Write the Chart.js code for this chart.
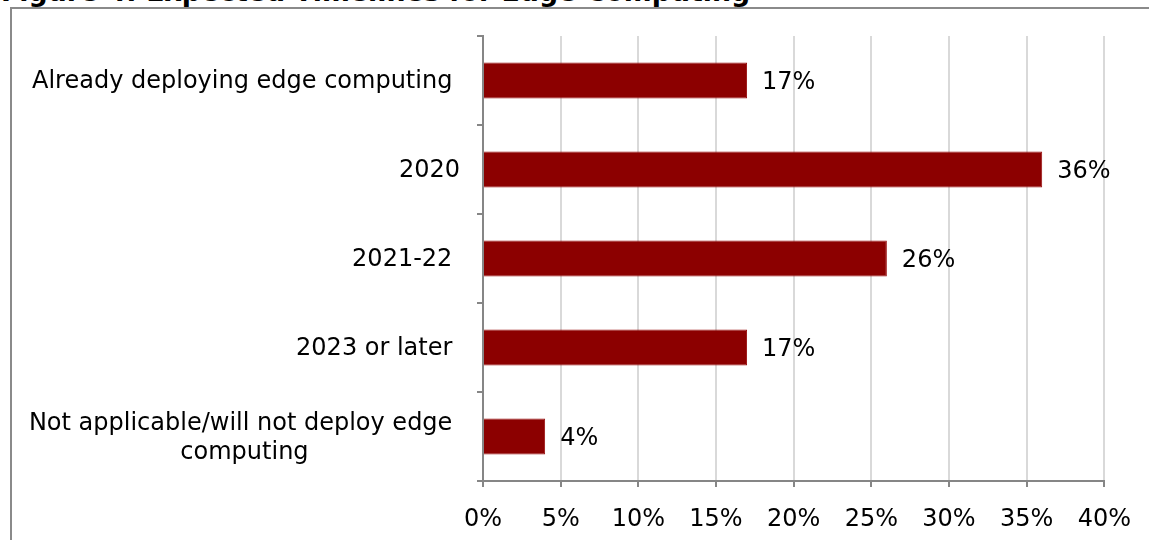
<!DOCTYPE html>
<html>
<head>
<meta charset="utf-8">
<script src="https://cdn.jsdelivr.net/npm/chart.js@4/dist/chart.umd.min.js"></script>
<style>
  html, body { margin: 0; padding: 0; background: #fff; overflow: hidden; }
  #wrap { position: relative; width: 1149px; height: 540px; }
  #title {
    position: absolute; left: 1px; top: -23px;
    font: bold 26.8px "DejaVu Sans", Verdana, sans-serif;
    color: #000; white-space: nowrap; line-height: 30px;
  }
  #frame {
    position: absolute; left: 10px; top: 7px; width: 1200px; height: 600px;
    border: 2px solid #8a8a8a; box-sizing: border-box;
  }
  #chart { position: absolute; left: 0; top: 0; }
</style>
</head>
<body>
<div id="wrap">
  <div id="title">Figure 4: Expected Timelines for Edge Computing</div>
  <div id="frame"></div>
  <canvas id="chart" width="1149" height="540"></canvas>
</div>
<script>
// ─── Data ───
const categories = [
  'Already deploying edge computing ',
  '2020',
  '2021-22 ',
  '2023 or later ',
  ['Not applicable/will not deploy edge ', 'computing']
];
const shares = [17, 36, 26, 17, 4];
const xTicks = [0, 5, 10, 15, 20, 25, 30, 35, 40];

const FONT = '"DejaVu Sans", Verdana, sans-serif';
const BAR_RED = '#8c0000';
const AXIS_GRAY = '#868686';
const GRID_GRAY = '#d9d9d9';

// ─── Category labels, right-anchored left of the axis ───
const categoryLabels = {
  id: 'categoryLabels',
  afterDraw(chart) {
    const { ctx } = chart;
    const y = chart.scales.y;
    const right = y.right - 23;
    const lineH = 29;
    ctx.save();
    ctx.font = `24px ${FONT}`;
    ctx.fillStyle = '#000';
    ctx.textBaseline = 'middle';
    categories.forEach((lab, i) => {
      const cy = y.getPixelForValue(i) + 1;
      const lines = Array.isArray(lab) ? lab : [lab];
      if (lines.length === 1) {
        ctx.textAlign = 'right';
        ctx.fillText(lines[0], right, cy);
      } else {
        const w = Math.max(...lines.map(l => ctx.measureText(l).width));
        const cx = right - w / 2;
        ctx.textAlign = 'center';
        const top = cy + 1 - (lines.length - 1) * lineH / 2;
        lines.forEach((l, k) => ctx.fillText(l, cx, top + k * lineH));
      }
    });
    ctx.restore();
  }
};

// ─── Value labels at the end of each bar ───
const valueLabels = {
  id: 'valueLabels',
  afterDatasetsDraw(chart) {
    const { ctx } = chart;
    const meta = chart.getDatasetMeta(0);
    ctx.save();
    ctx.font = `24px ${FONT}`;
    ctx.fillStyle = '#000';
    ctx.textAlign = 'left';
    ctx.textBaseline = 'middle';
    meta.data.forEach((bar, i) => {
      ctx.fillText(`${shares[i]}%`, bar.x + 15, bar.y + 2);
    });
    ctx.restore();
  }
};

new Chart(document.getElementById('chart'), {
  type: 'bar',
  data: {
    labels: categories,
    datasets: [{
      data: shares,
      backgroundColor: BAR_RED,
      borderColor: '#9a1010',
      borderWidth: 1,
      barPercentage: 0.405,
      categoryPercentage: 1
    }]
  },
  options: {
    indexAxis: 'y',
    responsive: false,
    animation: false,
    events: [],
    layout: { padding: { top: 36, right: 38, left: 0, bottom: 0 } },
    plugins: { legend: { display: false }, tooltip: { enabled: false } },
    scales: {
      x: {
        min: 0,
        max: 40,
        afterBuildTicks: (s) => { s.ticks = xTicks.map(v => ({ value: v })); },
        afterFit: (s) => { s.height = 540 - 481; },
        grid: {
          color: (c) => c.index === 0 ? AXIS_GRAY : GRID_GRAY,
          lineWidth: 2,
          tickColor: AXIS_GRAY,
          tickLength: 6,
          drawTicks: true
        },
        border: { color: AXIS_GRAY, width: 2 },
        ticks: {
          color: '#000',
          padding: 18,
          font: { family: FONT, size: 24 },
          callback: (v) => `${v}%`
        }
      },
      y: {
        afterFit: (s) => { s.width = 483; },
        grid: {
          offset: true,
          drawOnChartArea: false,
          tickColor: AXIS_GRAY,
          tickLength: 6,
          lineWidth: 2
        },
        border: { color: AXIS_GRAY, width: 2 },
        ticks: { display: false }
      }
    }
  },
  plugins: [categoryLabels, valueLabels]
});
</script>
</body>
</html>
